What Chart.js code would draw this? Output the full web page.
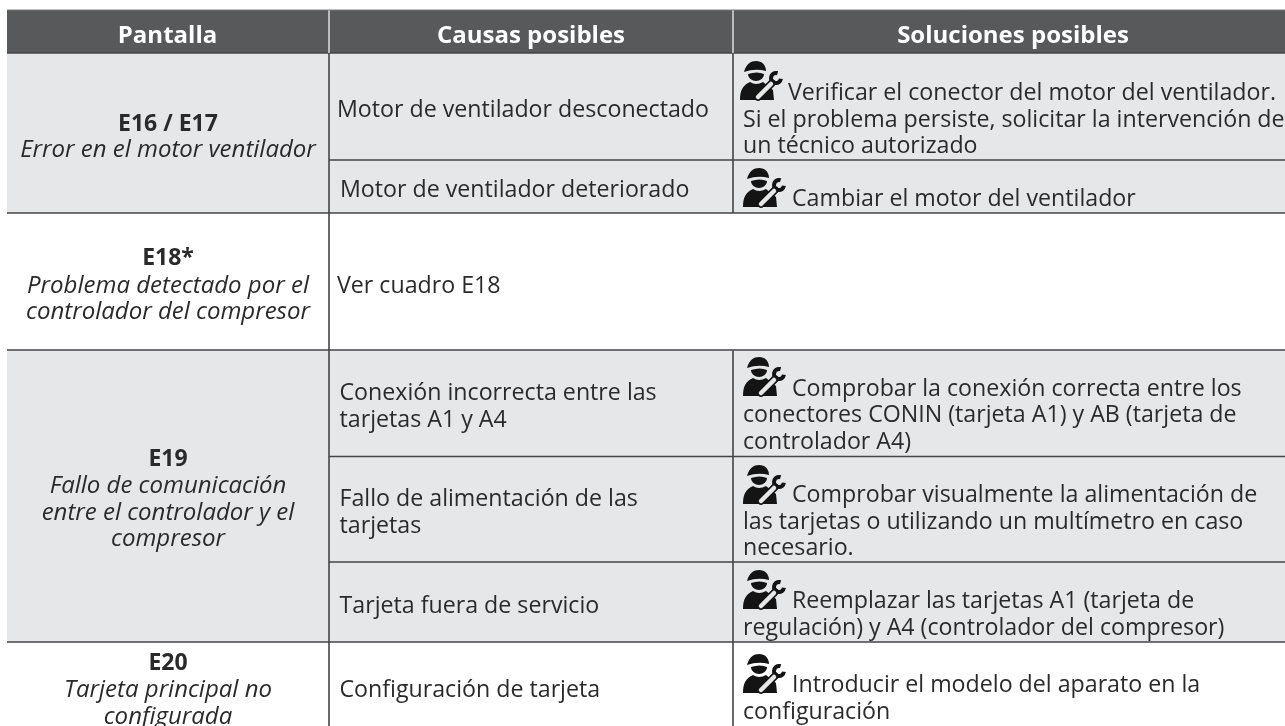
<!DOCTYPE html>
<html>
<head>
<meta charset="utf-8">
<title>Pantalla / Causas / Soluciones</title>
<script src="https://cdn.jsdelivr.net/npm/chart.js@4/dist/chart.umd.min.js"></script>
<style>
html, body { margin: 0; padding: 0; background: #fff; }
canvas { display: block; }
</style>
</head>
<body>
<canvas id="table_plot" width="1285" height="726"></canvas>
<script>
// table contents
const headers = ["Pantalla", "Causas posibles", "Soluciones posibles"];
const screenCodes = ["E16 / E17", "E18*", "E19", "E20"];
const screenNotes = [
    ["Error en el motor ventilador"],
    ["Problema detectado por el", "controlador del compresor"],
    ["Fallo de comunicación", "entre el controlador y el", "compresor"],
    ["Tarjeta principal no", "configurada"]
];
const causes = [
    ["Motor de ventilador desconectado"],
    ["Motor de ventilador deteriorado"],
    ["Ver cuadro E18"],
    ["Conexión incorrecta entre las", "tarjetas A1 y A4"],
    ["Fallo de alimentación de las", "tarjetas"],
    ["Tarjeta fuera de servicio"],
    ["Configuración de tarjeta"]
];
const solutions = [
    ["Verificar el conector del motor del ventilador.", "Si el problema persiste, solicitar la intervención de", "un técnico autorizado"],
    ["Cambiar el motor del ventilador"],
    ["Comprobar la conexión correcta entre los", "conectores CONIN (tarjeta A1) y AB (tarjeta de", "controlador A4)"],
    ["Comprobar visualmente la alimentación de", "las tarjetas o utilizando un multímetro en caso", "necesario."],
    ["Reemplazar las tarjetas A1 (tarjeta de", "regulación) y A4 (controlador del compresor)"],
    ["Introducir el modelo del aparato en la", "configuración"]
];

// layout, in table units (the hidden scales map them onto the canvas)
const W = 1285, H = 726;
const LEFT = 7, COL1 = 329, COL2 = 733;
const HEAD_TOP = 10, HEAD_BOT = 53;
const ROW_E16 = 160, ROW_E16_END = 213, ROW_E18_END = 350, ROW_E19A = 456.5, ROW_E19B = 562, ROW_E19_END = 642;
const LINE = 26.7;
const COL1_MID = 168;
const headerMids = [167.5, 531, 1013];
const headerBase = 43;
const codeBases = [131, 265, 466, 670];
const noteBases = [156.7, 292.7, 493, 697];
const causeX = [337, 340, 337, 339.5, 339.5, 339.5, 339.5];
const causeBases = [117, 197, 292.7, 400, 506, 613, 697];
const solX = 743, solFirstX = [788, 792, 792, 792, 792, 792];
const solBases = [100, 206, 395.5, 502, 608, 692];
const iconX = [762, 765, 765, 765, 765, 765];
const iconY = [81, 188, 377, 485, 590, 674];

const INK = "#2b2a2b", RULE = "#454547", HEAD = "#58595b", BAND = "#e6e7e8";
const FACE = '"Open Sans", sans-serif';

function band(y0, y1, color) {
    return { data: [{x: LEFT, y: y0}, {x: W, y: y0}], fill: {value: y1}, backgroundColor: color,
             borderWidth: 0, pointRadius: 0, showLine: true, order: 5 };
}
function rule(x0, y0, x1, y1, color, width) {
    return { data: [{x: x0, y: y0}, {x: x1, y: y1}], borderColor: color || RULE, borderWidth: width || 1.6,
             pointRadius: 0, showLine: true, fill: false, order: 2 };
}

// the little technician glyph, used as point style
function makeIcon() {
    const c = document.createElement("canvas");
    c.width = 44; c.height = 40;
    const g = c.getContext("2d");
    g.fillStyle = g.strokeStyle = "#141414";
    // hard hat
    g.beginPath();
    g.moveTo(4, 11);
    g.bezierCurveTo(6, 3, 11, 0, 16, 0);
    g.bezierCurveTo(22, 0, 26, 4, 26, 10);
    g.quadraticCurveTo(15, 7, 4, 11);
    g.fill();
    // face
    g.beginPath();
    g.moveTo(8, 13);
    g.quadraticCurveTo(17, 10, 24, 13);
    g.bezierCurveTo(24, 17, 20, 20, 16, 20);
    g.bezierCurveTo(12, 20, 8, 17, 8, 13);
    g.fill();
    // shoulders
    g.beginPath();
    g.moveTo(0, 39);
    g.bezierCurveTo(0, 29, 3, 24, 10, 21);
    g.quadraticCurveTo(16, 25, 23, 21);
    g.lineTo(33, 29);
    g.lineTo(34, 39);
    g.closePath();
    g.fill();
    // wrench head, open to the upper right
    g.lineWidth = 4;
    g.beginPath();
    g.arc(36, 17, 5, Math.PI * 0.05, Math.PI * 1.6);
    g.stroke();
    // wrench handle, a pale cut through the body with a dark edge
    g.lineWidth = 7.5;
    g.lineCap = "round";
    g.beginPath(); g.moveTo(18, 36); g.lineTo(32, 22); g.stroke();
    g.strokeStyle = "#e6e7e8";
    g.lineWidth = 4.5;
    g.beginPath(); g.moveTo(18, 36); g.lineTo(31, 23); g.stroke();
    return c;
}

const textPlugin = {
    id: "tableText",
    afterDatasetsDraw(chart) {
        const g = chart.ctx, sx = chart.scales.x, sy = chart.scales.y;
        const put = (s, x, y, font, color, align) => {
            g.font = font;
            g.fillStyle = color;
            g.textAlign = align || "left";
            g.textBaseline = "alphabetic";
            g.fillText(s, sx.getPixelForValue(x), sy.getPixelForValue(y));
        };
        g.save();
        headers.forEach((s, i) => put(s, headerMids[i], headerBase, "700 24px " + FACE, "#ffffff", "center"));
        screenCodes.forEach((s, i) => {
            put(s, COL1_MID, codeBases[i], "700 23px " + FACE, INK, "center");
            screenNotes[i].forEach((n, j) => put(n, COL1_MID, noteBases[i] + j * LINE, "italic 400 24px " + FACE, INK, "center"));
        });
        causes.forEach((lines, i) => lines.forEach((s, j) => put(s, causeX[i], causeBases[i] + j * LINE, "400 23.2px " + FACE, INK)));
        solutions.forEach((lines, i) => lines.forEach((s, j) => put(s, j ? solX : solFirstX[i], solBases[i] + j * LINE, "400 23.2px " + FACE, INK)));
        g.restore();
    }
};

new Chart(document.getElementById("table_plot"), {
    type: "scatter",
    data: {
        datasets: [
            band(HEAD_TOP, HEAD_BOT, HEAD),
            band(HEAD_BOT, ROW_E16_END, BAND),
            band(ROW_E18_END, ROW_E19_END, BAND),
            rule(LEFT, HEAD_TOP, W, HEAD_TOP, "#7a7b7d", 1),
            rule(COL1, HEAD_TOP, COL1, HEAD_BOT, "#ffffff", 1.2),
            rule(COL2, HEAD_TOP, COL2, HEAD_BOT, "#ffffff", 1.2),
            rule(LEFT, HEAD_BOT, W, HEAD_BOT),
            rule(COL1, ROW_E16, W, ROW_E16),
            rule(LEFT, ROW_E16_END, W, ROW_E16_END),
            rule(LEFT, ROW_E18_END, W, ROW_E18_END),
            rule(COL1, ROW_E19A, W, ROW_E19A),
            rule(COL1, ROW_E19B, W, ROW_E19B),
            rule(LEFT, ROW_E19_END, W, ROW_E19_END),
            rule(COL1, HEAD_BOT, COL1, H),
            rule(COL2, HEAD_BOT, COL2, ROW_E16_END),
            rule(COL2, ROW_E18_END, COL2, H),
            {
                data: iconX.map((x, i) => ({x: x, y: iconY[i]})),
                pointStyle: makeIcon(),
                showLine: false,
                order: 1
            }
        ]
    },
    options: {
        responsive: false,
        animation: false,
        layout: { padding: 0, autoPadding: false },
        plugins: { legend: { display: false }, tooltip: { enabled: false }, title: { display: false } },
        scales: {
            x: { type: "linear", display: false, min: 0, max: W },
            y: { type: "linear", display: false, min: 0, max: H, reverse: true }
        }
    },
    plugins: [textPlugin]
});
</script>
</body>
</html>
